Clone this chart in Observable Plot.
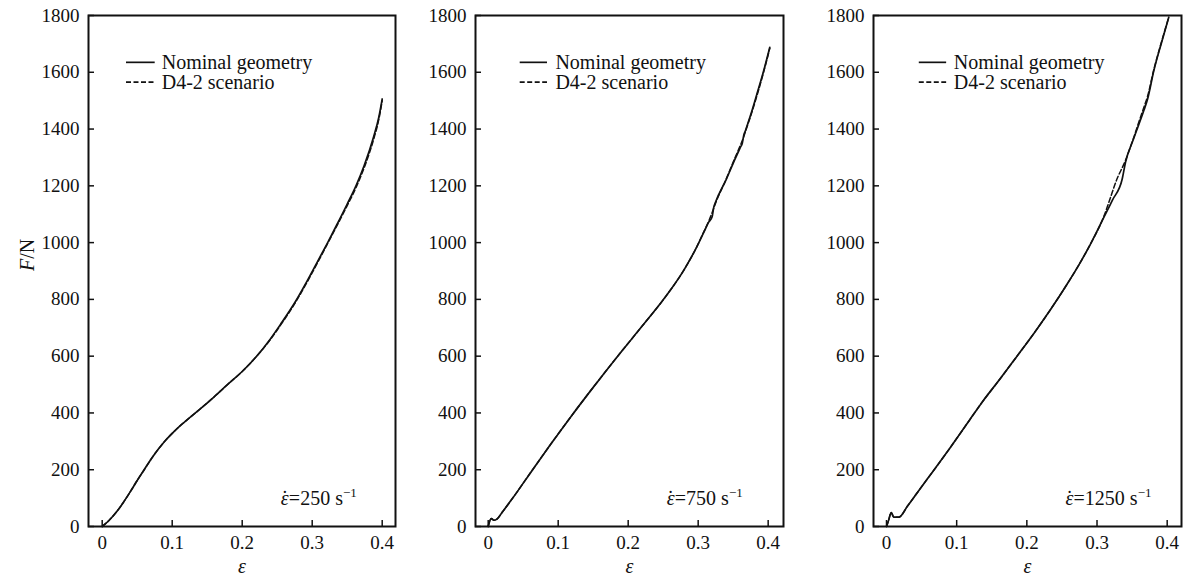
<!DOCTYPE html>
<html><head><meta charset="utf-8">
<script src="https://cdn.jsdelivr.net/npm/d3@7"></script>
<script src="https://cdn.jsdelivr.net/npm/@observablehq/plot@0.6"></script>
<style>
body{margin:0;background:#fff;}
#wrap{position:relative;width:1184px;height:577px;overflow:hidden;}
#wrap svg{position:absolute;top:0;}
#wrap svg, #wrap svg text, #wrap svg tspan{font-family:"Liberation Serif","Times New Roman",serif !important;}
</style></head><body><div id="wrap"></div>
<script>
// ---- data ----
const yTicks = [0, 200, 400, 600, 800, 1000, 1200, 1400, 1600, 1800];
const xTicks = [0, 0.1, 0.2, 0.3, 0.4];
const seriesNames = ["Nominal geometry", "D4-2 scenario"];
const strainRates = ["250", "750", "1250"];

const p1Nominal = [[0,0],[0.01,22],[0.02,50],[0.03,84],[0.04,122],[0.05,162],[0.06,200],[0.07,238],[0.08,272],[0.09,302],[0.1,328],[0.11,352],[0.12,373],[0.14,414],[0.16,457],[0.18,502],[0.2,546],[0.22,598],[0.24,660],[0.255,713],[0.275,788],[0.293,866],[0.308,935],[0.321,995],[0.335,1062],[0.35,1136],[0.363,1203],[0.374,1270],[0.388,1375],[0.395,1440],[0.4,1506]];
const p1D42 = [[0,0],[0.01,22],[0.02,50],[0.03,84],[0.04,122],[0.05,162],[0.06,200],[0.07,238],[0.08,272],[0.09,302],[0.1,328],[0.11,352],[0.12,373],[0.14,414],[0.16,457],[0.18,502],[0.2,546],[0.22,598],[0.24,658],[0.255,710],[0.275,785],[0.293,862],[0.308,931],[0.321,992],[0.335,1058],[0.35,1130],[0.363,1196],[0.374,1262],[0.388,1366],[0.395,1432],[0.4,1500]];

const p2Nominal = [[0,0],[0.002,18],[0.0047,28],[0.008,22],[0.0129,27],[0.02,50],[0.035,100],[0.062,195],[0.09,292],[0.12,393],[0.15,490],[0.185,600],[0.22,706],[0.253,808],[0.28,905],[0.298,985],[0.308,1036],[0.315,1072],[0.3198,1090],[0.3223,1125],[0.3247,1142],[0.34,1222],[0.3528,1295],[0.3604,1336],[0.363,1350],[0.365,1377],[0.3676,1395],[0.375,1450],[0.384,1524],[0.393,1600],[0.4023,1688]];
const p2D42 = [[0,0],[0.002,18],[0.0047,28],[0.008,22],[0.0129,27],[0.02,50],[0.035,100],[0.062,195],[0.09,292],[0.12,393],[0.15,490],[0.185,600],[0.22,706],[0.253,808],[0.28,905],[0.298,985],[0.308,1038],[0.315,1075],[0.32,1106],[0.3247,1138],[0.34,1224],[0.3528,1300],[0.36,1341],[0.365,1372],[0.3676,1392],[0.375,1446],[0.384,1518],[0.393,1596],[0.4023,1684]];

const p3Nominal = [[0,0],[0.003,22],[0.0067,49],[0.0104,33],[0.0176,33],[0.03,72],[0.0485,135],[0.0674,198],[0.09,275],[0.117,370],[0.1363,438],[0.1625,522],[0.186,600],[0.21,680],[0.234,765],[0.2575,854],[0.275,925],[0.2907,995],[0.3097,1089],[0.322,1150],[0.3359,1224],[0.3406,1283],[0.352,1365],[0.3667,1465],[0.372,1505],[0.381,1606],[0.392,1705],[0.4023,1794]];
const p3D42 = [[0,0],[0.003,22],[0.0067,49],[0.0104,33],[0.0176,33],[0.03,72],[0.0485,135],[0.0674,198],[0.09,275],[0.117,370],[0.1363,438],[0.1625,522],[0.186,600],[0.21,680],[0.234,765],[0.2575,854],[0.275,925],[0.2907,995],[0.3097,1092],[0.318,1150],[0.327,1215],[0.3406,1290],[0.352,1368],[0.362,1442],[0.3667,1476],[0.372,1515],[0.381,1610],[0.392,1708],[0.4023,1794]];

const panelData = [[p1Nominal, p1D42], [p2Nominal, p2D42], [p3Nominal, p3D42]];

// ---- layout (not data) ----
const panels = [
  {left: 0,   width: 400, mL: 88, mR: 5, xDomain: [-0.01957, 0.4190], legend: [0.034, 0.075, 0.085], yLabel: true},
  {left: 400, width: 390, mL: 75, mR: 7, xDomain: [-0.01814, 0.4219], legend: [0.045, 0.084, 0.096], yLabel: false},
  {left: 790, width: 394, mL: 83, mR: 3, xDomain: [-0.01853, 0.4204], legend: [0.046, 0.085, 0.096], yLabel: false}
];
const legendY = [1635, 1565];
const ink = "#111";
const fmt = d => String(d);
const serif = "Liberation Serif";

const wrap = document.getElementById("wrap");

panels.forEach((cfg, i) => {
  const [nom, d42] = panelData[i];
  const marks = [
    Plot.frame({stroke: ink, strokeWidth: 2}),
    Plot.axisY({ticks: yTicks, tickSize: 0, tickPadding: 9, tickFormat: fmt, label: null, fontSize: 19, fill: ink, fontFamily: serif}),
    Plot.axisX({ticks: xTicks, tickSize: 0, tickPadding: 9, tickFormat: fmt, label: null, fontSize: 19, fill: ink, fontFamily: serif}),
    Plot.axisY({ticks: yTicks, tickSize: -6, tickFormat: () => "", label: null, stroke: ink, strokeWidth: 1.5}),
    Plot.axisX({ticks: xTicks, tickSize: -6, tickFormat: () => "", label: null, stroke: ink, strokeWidth: 1.5}),
    Plot.line(nom, {x: d => d[0], y: d => d[1], stroke: ink, strokeWidth: 1.7, curve: "monotone-x"}),
    Plot.line(d42, {x: d => d[0], y: d => d[1], stroke: ink, strokeWidth: 1.5, strokeDasharray: "5,2.5", curve: "monotone-x"}),
    Plot.link([seriesNames[0]], {x1: cfg.legend[0], x2: cfg.legend[1], y1: legendY[0], y2: legendY[0], stroke: ink, strokeWidth: 1.7}),
    Plot.link([seriesNames[1]], {x1: cfg.legend[0], x2: cfg.legend[1], y1: legendY[1], y2: legendY[1], stroke: ink, strokeWidth: 1.7, strokeDasharray: "5,2.5"}),
    Plot.text(seriesNames, {x: cfg.legend[2], y: (d, k) => legendY[k], text: d => d, textAnchor: "start", lineAnchor: "middle", fontSize: 20, fill: ink, fontFamily: serif}),
    Plot.text([strainRates[i]], {x: 0.255, y: 100, text: d => d, textAnchor: "start", lineAnchor: "middle", fontSize: 20, fill: ink, fontFamily: serif, className: "rate"}),
    Plot.text(["ε"], {frameAnchor: "bottom", dy: 40, text: d => d, fontStyle: "italic", fontSize: 20, fill: ink, lineAnchor: "middle", fontFamily: serif})
  ];
  if (cfg.yLabel) {
    marks.push(Plot.text(["F/N"], {frameAnchor: "left", dx: -61, rotate: -90, text: d => d, fontSize: 20, fill: ink, lineAnchor: "middle", fontFamily: serif, className: "ylab"}));
  }
  const svg = Plot.plot({
    width: cfg.width,
    height: 577,
    marginLeft: cfg.mL,
    marginRight: cfg.mR,
    marginTop: 15,
    marginBottom: 51,
    x: {domain: cfg.xDomain},
    y: {domain: [0, 1800]},
    style: {fontFamily: serif, background: "transparent", color: ink},
    marks
  });
  svg.style.left = cfg.left + "px";
  wrap.appendChild(svg);

  d3.select(svg).selectAll(".rate text").each(function() {
    const t = d3.select(this);
    const rate = this.textContent;
    t.text(null);
    t.append("tspan").attr("font-style", "italic").text("ε");
    t.append("tspan").attr("dx", "-0.36em").text("\u02D9");
    t.append("tspan").attr("dx", "0.04em").text("=" + rate + " s");
    t.append("tspan").attr("font-size", "13px").attr("dy", "-0.55em").text("−1");
  });
  d3.select(svg).selectAll(".ylab text").each(function() {
    const t = d3.select(this);
    t.text(null);
    t.append("tspan").attr("font-style", "italic").text("F");
    t.append("tspan").text("/N");
  });
});
</script>
</body></html>
